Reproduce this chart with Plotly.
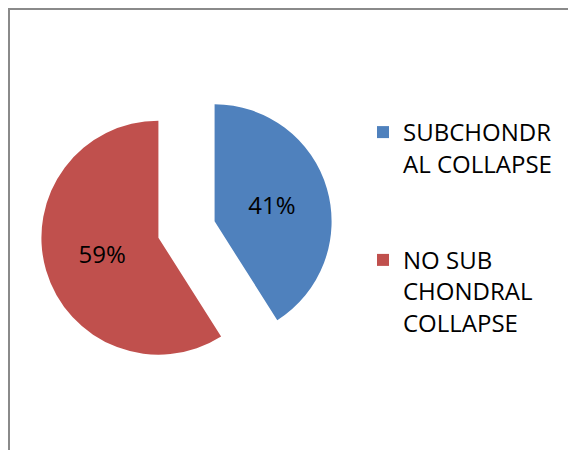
import plotly.graph_objects as go

labels = ["SUBCHONDR<br>AL COLLAPSE<br> <br> ", "NO SUB<br>CHONDRAL<br>COLLAPSE"]
values = [41, 59]
colors = ["#4F81BD", "#C0504D"]

W, H = 576, 450
cx, cy = 178.5, 221.5
r, pull = 117, 0.25
half = r * (1 + pull)

fig = go.Figure(go.Pie(
    labels=labels, values=values, sort=False, direction="clockwise", rotation=0,
    pull=[pull, pull],
    marker=dict(colors=colors, line=dict(width=0)),
    textinfo="percent", textposition="inside", insidetextorientation="horizontal",
    textfont=dict(family="Open Sans", size=24, color="#000000"),
    domain=dict(x=[(cx - half) / W, (cx + half) / W], y=[1 - (cy + half) / H, 1 - (cy - half) / H]),
    hoverinfo="label+percent",
))

fig.update_layout(
    width=W, height=H, margin=dict(l=0, r=0, t=0, b=0),
    paper_bgcolor="white", plot_bgcolor="white",
    font=dict(family="Open Sans", color="#000000"),
    legend=dict(x=355 / W, y=1 - 102 / H, xanchor="left", yanchor="top", valign="top",
                font=dict(family="Open Sans", size=24, color="#000000"),
                bgcolor="rgba(0,0,0,0)"),
    shapes=[dict(type="rect", xref="paper", yref="paper",
                 x0=1 / W, x1=1.02, y0=-0.02, y1=1 - 1 / H,
                 line=dict(color="#8a8a8a", width=2))],
)

fig.write_html("out.html")
